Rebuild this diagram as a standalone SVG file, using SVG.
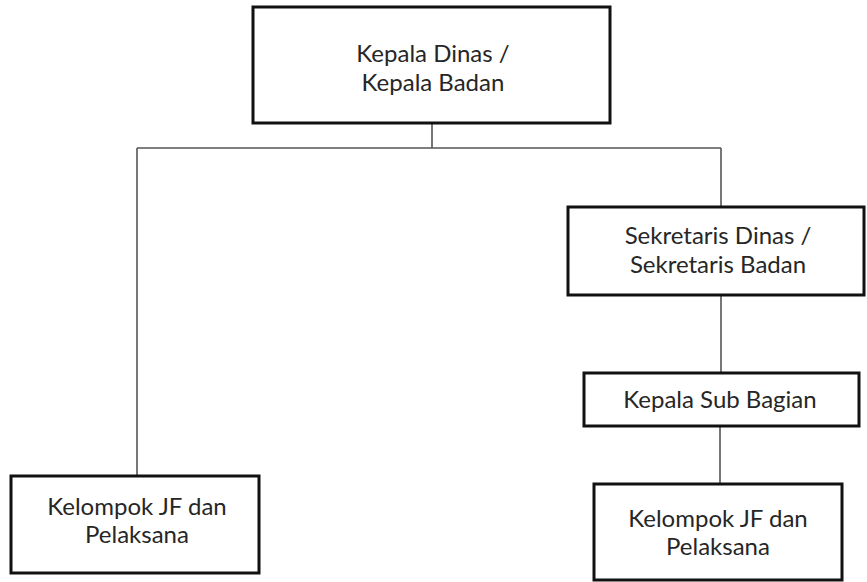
<svg xmlns="http://www.w3.org/2000/svg" width="867" height="582" viewBox="0 0 867 582">
  <style>
    .box { fill: #ffffff; stroke: #111111; stroke-width: 3; }
    .lbl { font-family: Lato, "Open Sans", "Liberation Sans", sans-serif; font-size: 24px; fill: #262626; text-anchor: middle; }
    .conn { fill: none; stroke: #555555; stroke-width: 1.6; }
  </style>
  <rect width="867" height="582" fill="#ffffff"/>

  <!-- connectors -->
  <g id="connectors">
    <path class="conn" d="M432 123 V148"/>
    <path class="conn" d="M137 148 H721"/>
    <path class="conn" d="M137 148 V476"/>
    <path class="conn" d="M721 148 V207"/>
    <path class="conn" d="M721 295 V373"/>
    <path class="conn" d="M720 426 V484"/>
  </g>

  <g id="kepala-dinas">
    <rect class="box" x="253" y="7" width="357" height="116"/>
    <text class="lbl" x="433" y="62">Kepala Dinas /</text>
    <text class="lbl" x="433" y="91">Kepala Badan</text>
  </g>

  <g id="sekretaris">
    <rect class="box" x="568" y="207" width="296" height="88"/>
    <text class="lbl" x="718" y="244">Sekretaris Dinas /</text>
    <text class="lbl" x="718" y="273">Sekretaris Badan</text>
  </g>

  <g id="kepala-sub-bagian">
    <rect class="box" x="584" y="373" width="275" height="53"/>
    <text class="lbl" x="720" y="408">Kepala Sub Bagian</text>
  </g>

  <g id="kelompok-jf-kanan">
    <rect class="box" x="594" y="484" width="248" height="96"/>
    <text class="lbl" x="718" y="527">Kelompok JF dan</text>
    <text class="lbl" x="718" y="555">Pelaksana</text>
  </g>

  <g id="kelompok-jf-kiri">
    <rect class="box" x="11" y="476" width="248" height="97"/>
    <text class="lbl" x="137" y="515">Kelompok JF dan</text>
    <text class="lbl" x="137" y="543">Pelaksana</text>
  </g>
</svg>
